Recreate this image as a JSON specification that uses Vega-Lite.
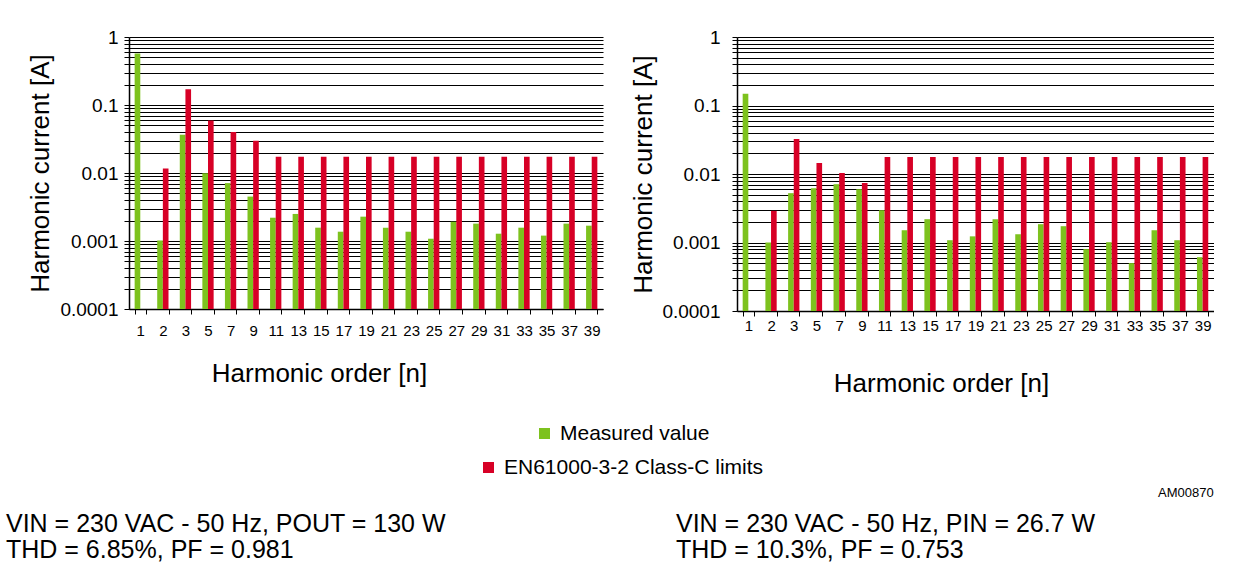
{
  "$schema": "https://vega.github.io/schema/vega-lite/v6.json",
  "padding": {"left": 6, "top": 28, "right": 0, "bottom": 0},
  "background": "white",
  "spacing": 27,
  "config": {
    "font": "Liberation Sans",
    "view": {"stroke": null},
    "axis": {"labelColor": "#000", "titleColor": "#000", "domainColor": "#000", "tickColor": "#000", "titleFontWeight": "normal", "labelFont": "Liberation Sans", "titleFont": "Liberation Sans"}
  },
  "datasets": {
    "left": [
      {"n": 1, "series": "Measured value", "value": 0.57},
      {"n": 2, "series": "Measured value", "value": 0.00102},
      {"n": 3, "series": "Measured value", "value": 0.0366},
      {"n": 5, "series": "Measured value", "value": 0.0099},
      {"n": 7, "series": "Measured value", "value": 0.0071},
      {"n": 9, "series": "Measured value", "value": 0.0045},
      {"n": 11, "series": "Measured value", "value": 0.0022},
      {"n": 13, "series": "Measured value", "value": 0.0025},
      {"n": 15, "series": "Measured value", "value": 0.00157},
      {"n": 17, "series": "Measured value", "value": 0.00137},
      {"n": 19, "series": "Measured value", "value": 0.00228},
      {"n": 21, "series": "Measured value", "value": 0.00157},
      {"n": 23, "series": "Measured value", "value": 0.00137},
      {"n": 25, "series": "Measured value", "value": 0.00108},
      {"n": 27, "series": "Measured value", "value": 0.00192},
      {"n": 29, "series": "Measured value", "value": 0.0018},
      {"n": 31, "series": "Measured value", "value": 0.00128},
      {"n": 33, "series": "Measured value", "value": 0.00157},
      {"n": 35, "series": "Measured value", "value": 0.0012},
      {"n": 37, "series": "Measured value", "value": 0.0018},
      {"n": 39, "series": "Measured value", "value": 0.00168},
      {"n": 2, "series": "EN61000-3-2 Class-C limits", "value": 0.0116},
      {"n": 3, "series": "EN61000-3-2 Class-C limits", "value": 0.17},
      {"n": 5, "series": "EN61000-3-2 Class-C limits", "value": 0.0594},
      {"n": 7, "series": "EN61000-3-2 Class-C limits", "value": 0.0401},
      {"n": 9, "series": "EN61000-3-2 Class-C limits", "value": 0.0299},
      {"n": 11, "series": "EN61000-3-2 Class-C limits", "value": 0.0174},
      {"n": 13, "series": "EN61000-3-2 Class-C limits", "value": 0.0174},
      {"n": 15, "series": "EN61000-3-2 Class-C limits", "value": 0.0174},
      {"n": 17, "series": "EN61000-3-2 Class-C limits", "value": 0.0174},
      {"n": 19, "series": "EN61000-3-2 Class-C limits", "value": 0.0174},
      {"n": 21, "series": "EN61000-3-2 Class-C limits", "value": 0.0174},
      {"n": 23, "series": "EN61000-3-2 Class-C limits", "value": 0.0174},
      {"n": 25, "series": "EN61000-3-2 Class-C limits", "value": 0.0174},
      {"n": 27, "series": "EN61000-3-2 Class-C limits", "value": 0.0174},
      {"n": 29, "series": "EN61000-3-2 Class-C limits", "value": 0.0174},
      {"n": 31, "series": "EN61000-3-2 Class-C limits", "value": 0.0174},
      {"n": 33, "series": "EN61000-3-2 Class-C limits", "value": 0.0174},
      {"n": 35, "series": "EN61000-3-2 Class-C limits", "value": 0.0174},
      {"n": 37, "series": "EN61000-3-2 Class-C limits", "value": 0.0174},
      {"n": 39, "series": "EN61000-3-2 Class-C limits", "value": 0.0174}
    ],
    "right": [
      {"n": 1, "series": "Measured value", "value": 0.148},
      {"n": 2, "series": "Measured value", "value": 0.001},
      {"n": 3, "series": "Measured value", "value": 0.00525},
      {"n": 5, "series": "Measured value", "value": 0.0062},
      {"n": 7, "series": "Measured value", "value": 0.0071},
      {"n": 9, "series": "Measured value", "value": 0.006},
      {"n": 11, "series": "Measured value", "value": 0.00296},
      {"n": 13, "series": "Measured value", "value": 0.00151},
      {"n": 15, "series": "Measured value", "value": 0.00219},
      {"n": 17, "series": "Measured value", "value": 0.00108},
      {"n": 19, "series": "Measured value", "value": 0.00123},
      {"n": 21, "series": "Measured value", "value": 0.00219},
      {"n": 23, "series": "Measured value", "value": 0.00132},
      {"n": 25, "series": "Measured value", "value": 0.00185},
      {"n": 27, "series": "Measured value", "value": 0.00173},
      {"n": 29, "series": "Measured value", "value": 0.0008},
      {"n": 31, "series": "Measured value", "value": 0.00101},
      {"n": 33, "series": "Measured value", "value": 0.0005},
      {"n": 35, "series": "Measured value", "value": 0.00151},
      {"n": 37, "series": "Measured value", "value": 0.00108},
      {"n": 39, "series": "Measured value", "value": 0.00061},
      {"n": 2, "series": "EN61000-3-2 Class-C limits", "value": 0.0029},
      {"n": 3, "series": "EN61000-3-2 Class-C limits", "value": 0.0324},
      {"n": 5, "series": "EN61000-3-2 Class-C limits", "value": 0.0145},
      {"n": 7, "series": "EN61000-3-2 Class-C limits", "value": 0.0103},
      {"n": 9, "series": "EN61000-3-2 Class-C limits", "value": 0.0074},
      {"n": 11, "series": "EN61000-3-2 Class-C limits", "value": 0.0177},
      {"n": 13, "series": "EN61000-3-2 Class-C limits", "value": 0.0177},
      {"n": 15, "series": "EN61000-3-2 Class-C limits", "value": 0.0177},
      {"n": 17, "series": "EN61000-3-2 Class-C limits", "value": 0.0177},
      {"n": 19, "series": "EN61000-3-2 Class-C limits", "value": 0.0177},
      {"n": 21, "series": "EN61000-3-2 Class-C limits", "value": 0.0177},
      {"n": 23, "series": "EN61000-3-2 Class-C limits", "value": 0.0177},
      {"n": 25, "series": "EN61000-3-2 Class-C limits", "value": 0.0177},
      {"n": 27, "series": "EN61000-3-2 Class-C limits", "value": 0.0177},
      {"n": 29, "series": "EN61000-3-2 Class-C limits", "value": 0.0177},
      {"n": 31, "series": "EN61000-3-2 Class-C limits", "value": 0.0177},
      {"n": 33, "series": "EN61000-3-2 Class-C limits", "value": 0.0177},
      {"n": 35, "series": "EN61000-3-2 Class-C limits", "value": 0.0177},
      {"n": 37, "series": "EN61000-3-2 Class-C limits", "value": 0.0177},
      {"n": 39, "series": "EN61000-3-2 Class-C limits", "value": 0.0177}
    ],
    "tag": [{"tag": "AM00870", "n": 39, "value": 0.0001}]
  },
  "hconcat": [
    {
      "width": 474,
      "height": 272,
      "data": {"name": "left"},
      "title": {"text": ["VIN = 230 VAC - 50 Hz, POUT = 130 W", "THD = 6.85%, PF = 0.981"], "orient": "bottom", "anchor": "start", "frame": "group", "dx": -123, "offset": 126, "fontSize": 25, "fontWeight": "normal", "color": "#000", "lineHeight": 26, "baseline": "top", "font": "Liberation Sans"},
      "encoding": {
        "x": {"field": "n", "type": "ordinal", "scale": {"paddingInner": 0.5, "paddingOuter": 0.25},
          "axis": {"title": "Harmonic order [n]", "labelAngle": 0, "tickBand": "extent", "tickSize": 5, "labelFontSize": 15, "labelPadding": 9, "labelDx": -3, "titleFontSize": 26, "titleX": 190, "titleY": 51, "titleBaseline": "top", "titleAlign": "center", "grid": false, "domainWidth": 1.5}},
        "xOffset": {"field": "series", "type": "nominal", "scale": {"domain": ["Measured value", "EN61000-3-2 Class-C limits"], "paddingInner": 0, "paddingOuter": 0}},
        "y": {"field": "value", "type": "quantitative", "stack": null, "scale": {"type": "log", "domain": [0.0001, 1], "nice": false},
          "axis": {"title": "Harmonic current [A]", "values": [0.0001,0.0002,0.0003,0.0004,0.0005,0.0006,0.0007,0.0008,0.0009,0.001,0.002,0.003,0.004,0.005,0.006,0.007,0.008,0.009,0.01,0.02,0.03,0.04,0.05,0.06,0.07,0.08,0.09,0.1,0.2,0.3,0.4,0.5,0.6,0.7,0.8,0.9,1],
            "labelExpr": "datum.value == 1 ? '1' : datum.value == 0.1 ? '0.1' : datum.value == 0.01 ? '0.01' : datum.value == 0.001 ? '0.001' : datum.value == 0.0001 ? '0.0001' : ''",
            "labelOverlap": false, "labelBound": false, "grid": true, "gridColor": "#000", "gridOpacity": 1, "gridWidth": 1, "tickSize": 5, "labelFontSize": 19, "labelPadding": 6, "titleFontSize": 26, "titlePadding": 6, "domainWidth": 1.5}},
        "y2": {"datum": 0.0001}
      },
      "layer": [
        {"transform": [{"filter": "datum.series === 'Measured value'"}], "mark": {"type": "bar"},
          "encoding": {"color": {"field": "series", "type": "nominal", "scale": {"domain": ["Measured value"], "range": ["#7DC21E"]},
            "legend": {"title": null, "orient": "none", "legendX": 405, "legendY": 386, "symbolType": "square", "symbolSize": 121, "symbolStrokeWidth": 0, "labelFontSize": 21, "labelOffset": 5, "labelColor": "#000", "labelLimit": 500}}}},
        {"transform": [{"filter": "datum.series !== 'Measured value'"}], "mark": {"type": "bar"},
          "encoding": {"fill": {"field": "series", "type": "nominal", "scale": {"domain": ["EN61000-3-2 Class-C limits"], "range": ["#D70026"]},
            "legend": {"title": null, "orient": "none", "legendX": 349, "legendY": 420, "symbolType": "square", "symbolSize": 121, "symbolStrokeWidth": 0, "labelFontSize": 21, "labelOffset": 5, "labelColor": "#000", "labelLimit": 500}}}}
      ]
    },
    {
      "width": 477,
      "height": 274,
      "title": {"text": ["VIN = 230 VAC - 50 Hz, PIN = 26.7 W", "THD = 10.3%, PF = 0.753"], "orient": "bottom", "anchor": "start", "frame": "group", "dx": -61, "offset": 12, "fontSize": 25, "fontWeight": "normal", "color": "#000", "lineHeight": 26, "baseline": "top", "font": "Liberation Sans"},
      "encoding": {
        "x": {"field": "n", "type": "ordinal", "scale": {"paddingInner": 0.5, "paddingOuter": 0.25},
          "axis": {"title": "Harmonic order [n]", "labelAngle": 0, "tickBand": "extent", "tickSize": 5, "labelFontSize": 15, "labelPadding": 2, "titleFontSize": 26, "titleX": 204, "titleY": 59, "titleBaseline": "top", "titleAlign": "center", "grid": false, "domainWidth": 1.5}},
        "y": {"field": "value", "type": "quantitative", "stack": null, "scale": {"type": "log", "domain": [0.0001, 1], "nice": false},
          "axis": {"title": "Harmonic current [A]", "values": [0.0001,0.0002,0.0003,0.0004,0.0005,0.0006,0.0007,0.0008,0.0009,0.001,0.002,0.003,0.004,0.005,0.006,0.007,0.008,0.009,0.01,0.02,0.03,0.04,0.05,0.06,0.07,0.08,0.09,0.1,0.2,0.3,0.4,0.5,0.6,0.7,0.8,0.9,1],
            "labelExpr": "datum.value == 1 ? '1' : datum.value == 0.1 ? '0.1' : datum.value == 0.01 ? '0.01' : datum.value == 0.001 ? '0.001' : datum.value == 0.0001 ? '0.0001' : ''",
            "labelOverlap": false, "labelBound": false, "grid": true, "gridColor": "#000", "gridOpacity": 1, "gridWidth": 1, "tickSize": 5, "labelFontSize": 19, "labelPadding": 12, "titleFontSize": 26, "titlePadding": 5, "domainWidth": 1.5}}
      },
      "layer": [
        {"data": {"name": "right"}, "transform": [{"filter": "datum.series === 'Measured value'"}], "mark": {"type": "bar"},
          "encoding": {"xOffset": {"field": "series", "type": "nominal", "scale": {"domain": ["Measured value", "EN61000-3-2 Class-C limits"], "paddingInner": 0, "paddingOuter": 0}},
            "y2": {"datum": 0.0001},
            "color": {"field": "series", "type": "nominal", "scale": {"domain": ["Measured value"], "range": ["#7DC21E"]},
            "legend": {"title": null, "orient": "none", "legendX": 405, "legendY": 386, "symbolType": "square", "symbolSize": 121, "symbolStrokeWidth": 0, "labelFontSize": 21, "labelOffset": 5, "labelColor": "#000", "labelLimit": 500}}}},
        {"data": {"name": "right"}, "transform": [{"filter": "datum.series !== 'Measured value'"}], "mark": {"type": "bar"},
          "encoding": {"xOffset": {"field": "series", "type": "nominal", "scale": {"domain": ["Measured value", "EN61000-3-2 Class-C limits"], "paddingInner": 0, "paddingOuter": 0}},
            "y2": {"datum": 0.0001},
            "fill": {"field": "series", "type": "nominal", "scale": {"domain": ["EN61000-3-2 Class-C limits"], "range": ["#D70026"]},
            "legend": {"title": null, "orient": "none", "legendX": 349, "legendY": 420, "symbolType": "square", "symbolSize": 121, "symbolStrokeWidth": 0, "labelFontSize": 21, "labelOffset": 5, "labelColor": "#000", "labelLimit": 500}}}},
        {"data": {"name": "tag"}, "mark": {"type": "text", "align": "right", "baseline": "middle", "fontSize": 13, "dx": 11, "dy": 182, "color": "#000"},
          "encoding": {"text": {"field": "tag", "type": "nominal"}}}
      ]
    }
  ]
}
